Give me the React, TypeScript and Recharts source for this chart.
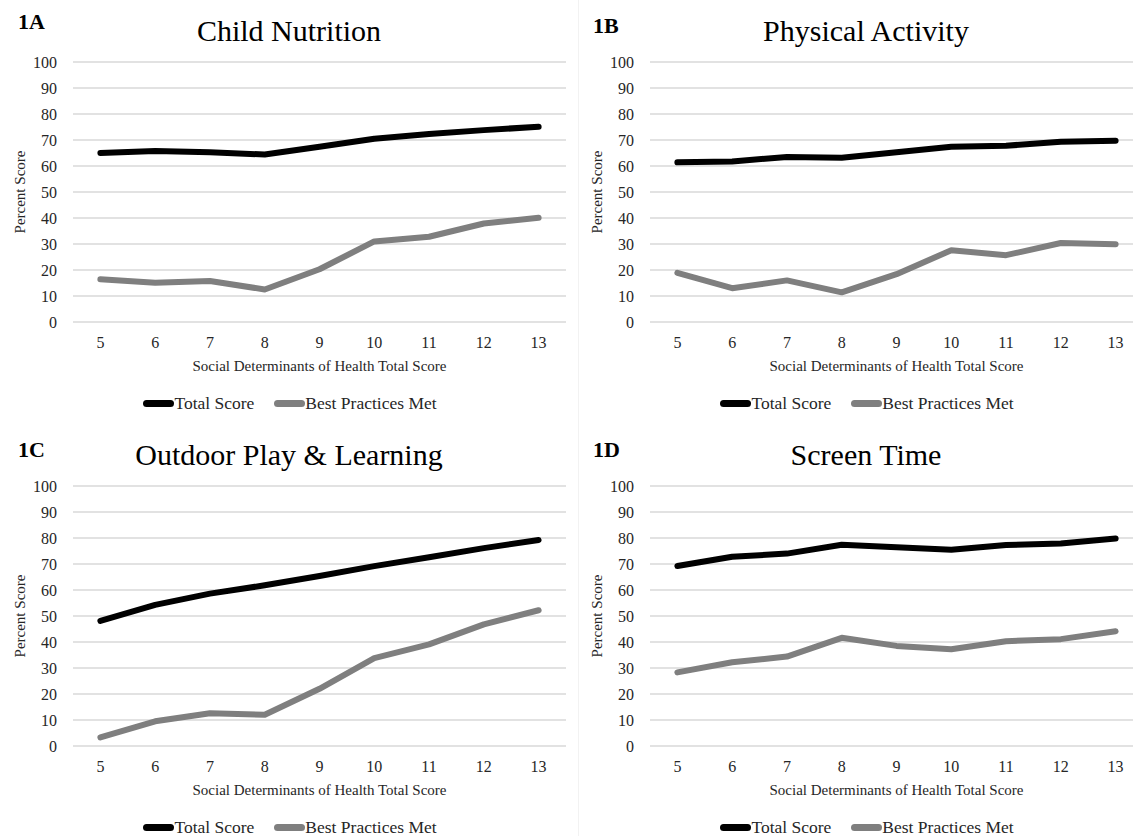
import React from 'react';
import { LineChart, Line, XAxis, YAxis, CartesianGrid, Legend, Label } from 'recharts';

// ---- data ----
const scores = [5, 6, 7, 8, 9, 10, 11, 12, 13];
const yTicks = [0, 10, 20, 30, 40, 50, 60, 70, 80, 90, 100];
const seriesNames = ['Total Score', 'Best Practices Met'];

const nutritionTotal = [65.0, 65.8, 65.3, 64.4, 67.4, 70.5, 72.3, 73.8, 75.1];
const nutritionBest = [16.4, 15.1, 15.8, 12.5, 20.3, 31.0, 32.8, 37.9, 40.1];

const activityTotal = [61.4, 61.7, 63.5, 63.2, 65.3, 67.4, 67.8, 69.3, 69.7];
const activityBest = [18.9, 13.0, 16.0, 11.4, 18.4, 27.6, 25.7, 30.4, 29.9];

const outdoorTotal = [48.1, 54.3, 58.6, 61.8, 65.4, 69.2, 72.6, 76.1, 79.2];
const outdoorBest = [3.3, 9.5, 12.6, 12.0, 22.0, 33.8, 39.1, 46.8, 52.2];

const screenTotal = [69.2, 72.8, 74.0, 77.4, 76.4, 75.5, 77.3, 77.9, 79.8];
const screenBest = [28.3, 32.2, 34.4, 41.6, 38.5, 37.2, 40.3, 41.1, 44.1];

const xAxisTitle = 'Social Determinants of Health Total Score';
const yAxisTitle = 'Percent Score';

// ---- styles ----
const FONT = '"Liberation Serif", "Times New Roman", Times, serif';
const W = 577;
const H = 420;
const TEXT = '#262626';
const BLACK = '#000000';
const GRAY = '#7f7f7f';

function LegendContent() {
  const icon = (color: string) => (
    <span
      style={{
        display: 'inline-block',
        width: 31,
        height: 7,
        borderRadius: 4,
        background: color,
      }}
    />
  );
  return (
    <div
      style={{
        height: 26,
        display: 'flex',
        justifyContent: 'center',
        alignItems: 'center',
        fontFamily: FONT,
        fontSize: 17.5,
        color: TEXT,
        paddingLeft: 14,
        boxSizing: 'border-box',
        whiteSpace: 'nowrap',
      }}
    >
      {icon(BLACK)}
      <span style={{ marginRight: 20 }}>{seriesNames[0]}</span>
      {icon(GRAY)}
      <span>{seriesNames[1]}</span>
    </div>
  );
}

const XTick = (props: any) => {
  const { x, y, payload } = props;
  return (
    <text x={x} y={y} dy="0.71em" textAnchor="middle" fontFamily={FONT} fontSize={16} fill={TEXT}>
      {payload && payload.value}
    </text>
  );
};

const YTick = (props: any) => {
  const { x, y, payload } = props;
  return (
    <text x={x} y={y} dy="0.355em" textAnchor="end" fontFamily={FONT} fontSize={16} fill={TEXT}>
      {payload && payload.value}
    </text>
  );
};

const renderXLabel = (props: any) => {
  const vb = props.viewBox || { x: 73, y: 322, width: 493, height: 68 };
  return (
    <text
      x={vb.x + vb.width / 2}
      y={vb.y + 49}
      textAnchor="middle"
      fontFamily={FONT}
      fontSize={15}
      fill={TEXT}
    >
      {xAxisTitle}
    </text>
  );
};

const renderYLabel = (props: any) => {
  const vb = props.viewBox || { x: 0, y: 62, width: 73, height: 260 };
  const cx = 25;
  const cy = vb.y + vb.height / 2;
  return (
    <text
      x={cx}
      y={cy}
      transform={`rotate(-90, ${cx}, ${cy})`}
      textAnchor="middle"
      fontFamily={FONT}
      fontSize={15}
      fill={TEXT}
    >
      {yAxisTitle}
    </text>
  );
};

type PanelProps = {
  left: number;
  top: number;
  title: string;
  tag: string;
  tagX: number;
  tagBaseline: number;
  total: number[];
  best: number[];
};

function Panel({ left, top, title, tag, tagX, tagBaseline, total, best }: PanelProps) {
  const data = scores.map((s, i) => ({ x: s, total: total[i], best: best[i] }));
  return (
    <div style={{ position: 'absolute', left, top, width: W, height: H }}>
      <LineChart width={W} height={H} data={data} margin={{ top: 62, right: 11, left: 0, bottom: 4 }}>
        <CartesianGrid vertical={false} stroke="#d9d9d9" strokeWidth={1.3} />
        <XAxis
          dataKey="x"
          type="number"
          domain={[4.5, 13.5]}
          ticks={scores}
          interval={0}
          axisLine={false}
          tickLine={false}
          tickSize={6}
          tickMargin={9}
          height={68}
          tick={<XTick />}
        >
          <Label content={renderXLabel} />
        </XAxis>
        <YAxis
          type="number"
          domain={[0, 100]}
          ticks={yTicks}
          interval={0}
          width={73}
          axisLine={false}
          tickLine={false}
          tickSize={6}
          tickMargin={10}
          tick={<YTick />}
        >
          <Label content={renderYLabel} />
        </YAxis>
        <Legend verticalAlign="bottom" height={26} content={<LegendContent />} />
        <Line
          type="linear"
          dataKey="total"
          name={seriesNames[0]}
          stroke={BLACK}
          strokeWidth={6}
          strokeLinecap="round"
          strokeLinejoin="round"
          dot={false}
          activeDot={false}
          isAnimationActive={false}
        />
        <Line
          type="linear"
          dataKey="best"
          name={seriesNames[1]}
          stroke={GRAY}
          strokeWidth={6}
          strokeLinecap="round"
          strokeLinejoin="round"
          dot={false}
          activeDot={false}
          isAnimationActive={false}
        />
      </LineChart>
      <svg
        width={W}
        height={H}
        style={{ position: 'absolute', left: 0, top: 0, pointerEvents: 'none' }}
      >
        <text x={289} y={41} textAnchor="middle" fontFamily={FONT} fontSize={30} fill={BLACK}>
          {title}
        </text>
        <text x={tagX} y={tagBaseline} fontFamily={FONT} fontSize={22} fontWeight="bold" fill={BLACK}>
          {tag}
        </text>
      </svg>
    </div>
  );
}

export default function App() {
  return (
    <div
      style={{
        position: 'absolute',
        left: 0,
        top: 0,
        width: 1133,
        height: 836,
        overflow: 'hidden',
        background: '#ffffff',
      }}
    >
      <div
        style={{ position: 'absolute', left: 578, top: 0, width: 1, height: 836, background: '#f2f2f2' }}
      />
      <Panel left={0} top={0} title="Child Nutrition" tag="1A" tagX={18} tagBaseline={29} total={nutritionTotal} best={nutritionBest} />
      <Panel left={577} top={0} title="Physical Activity" tag="1B" tagX={16} tagBaseline={33} total={activityTotal} best={activityBest} />
      <Panel left={0} top={424} title="Outdoor Play & Learning" tag="1C" tagX={18} tagBaseline={33} total={outdoorTotal} best={outdoorBest} />
      <Panel left={577} top={424} title="Screen Time" tag="1D" tagX={16} tagBaseline={33} total={screenTotal} best={screenBest} />
    </div>
  );
}
